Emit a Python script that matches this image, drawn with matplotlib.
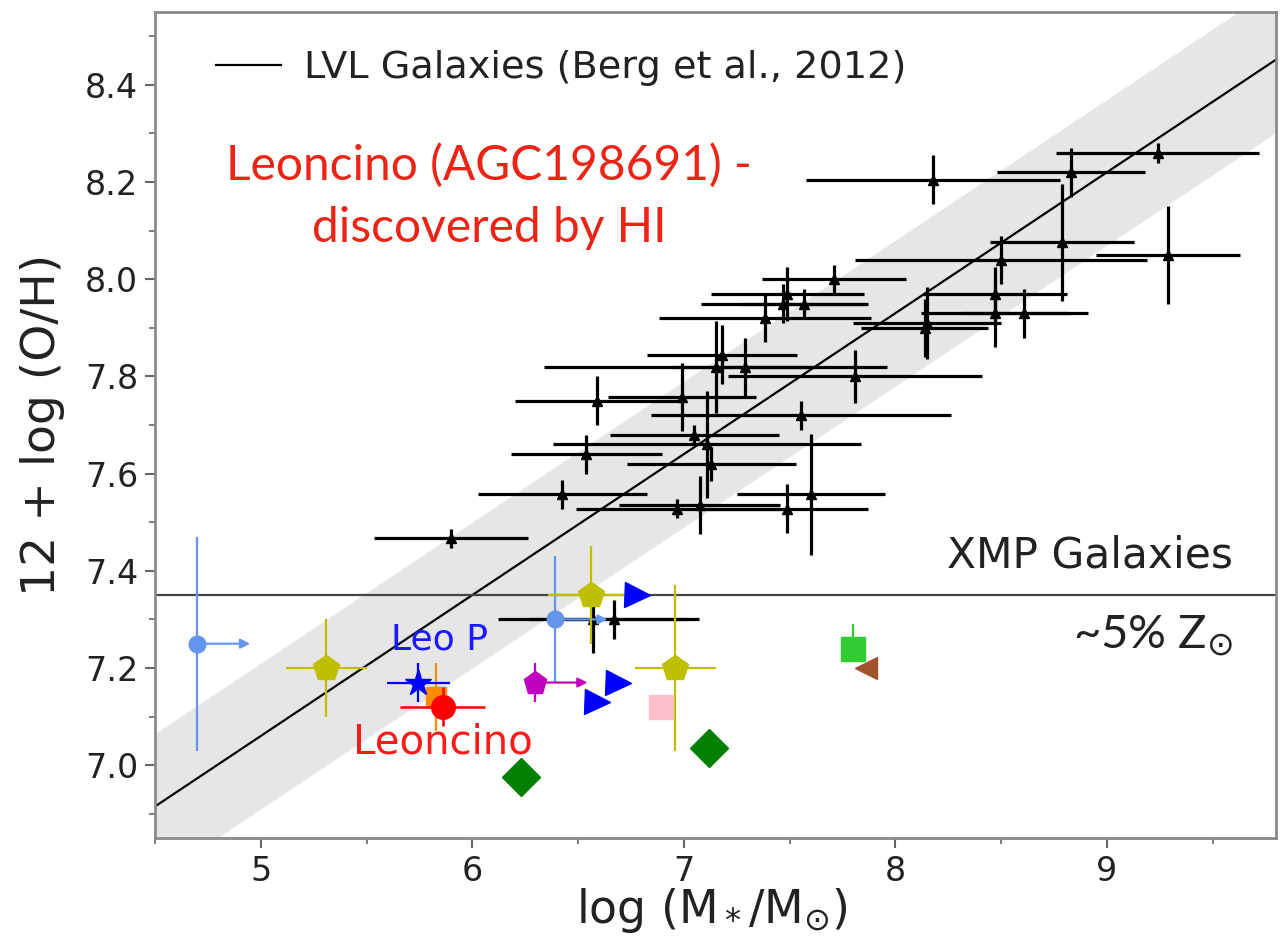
import matplotlib
matplotlib.use('Agg')
import matplotlib.pyplot as plt

# ---------------- data ----------------
# LVL galaxies (Berg et al., 2012): log M*, 12+log(O/H), errors
lvl_logm = [9.24, 8.18, 8.83, 8.79, 9.29, 8.50, 7.71, 7.49, 7.47, 7.57, 7.385,
            8.47, 8.47, 8.61, 8.15, 8.14, 7.18, 7.15, 7.29, 7.81, 6.99, 6.59,
            7.555, 7.05, 7.11, 7.13, 6.54, 6.425, 6.97, 7.075, 7.49, 7.60,
            5.90, 6.57, 6.67]
lvl_oh = [8.26, 8.205, 8.22, 8.076, 8.05, 8.04, 8.00, 7.97, 7.95, 7.95, 7.92,
          7.97, 7.93, 7.93, 7.91, 7.90, 7.845, 7.82, 7.82, 7.80, 7.757, 7.75,
          7.72, 7.68, 7.66, 7.62, 7.64, 7.557, 7.528, 7.536, 7.528, 7.557,
          7.467, 7.30, 7.30]
lvl_xerr = [0.48, 0.60, 0.35, 0.34, 0.34, 0.69, 0.34, 0.36, 0.39, 0.30, 0.50,
            0.34, 0.35, 0.30, 0.35, 0.30, 0.355, 0.81, 0.34, 0.60, 0.35, 0.39,
            0.71, 0.40, 0.73, 0.40, 0.355, 0.40, 0.48, 0.38, 0.38, 0.35,
            0.365, 0.45, 0.40]
lvl_yerr = [0.02, 0.05, 0.05, 0.12, 0.10, 0.05, 0.03, 0.055, 0.04, 0.03, 0.05,
            0.055, 0.07, 0.05, 0.075, 0.06, 0.06, 0.095, 0.06, 0.055, 0.07, 0.05,
            0.03, 0.02, 0.11, 0.035, 0.04, 0.03, 0.02, 0.06, 0.05, 0.125,
            0.02, 0.07, 0.04]

# Berg et al. (2012) relation
fit_intercept = 5.61
fit_slope = 0.29
fit_scatter = 0.15
fit_x = [4.5, 9.8]

xmp_limit = 7.35

# XMP galaxies
lb_x = [4.70, 6.39]; lb_y = [7.25, 7.30]; lb_yerr = [0.22, 0.13]; lb_arrow = [0.25, 0.25]
ol_x = [5.31, 6.56, 6.96]; ol_y = [7.20, 7.35, 7.20]
ol_xerr = [0.19, 0.20, 0.19]; ol_yerr = [0.10, 0.10, 0.17]
leop_x = [5.745]; leop_y = [7.17]; leop_xerr = [0.15]; leop_yerr = [0.04]
or_x = [5.83]; or_y = [7.14]; or_yerr = [0.07]
leon_x = [5.86]; leon_y = [7.12]; leon_xerr = [0.20]; leon_yerr = [0.04]
mag_x = [6.295]; mag_y = [7.17]; mag_yerr = [0.04]; mag_arrow = [0.25]
tri_x = [6.78, 6.69, 6.59]; tri_y = [7.35, 7.17, 7.13]
pink_x = [6.89]; pink_y = [7.12]
dia_x = [6.23, 7.12]; dia_y = [6.975, 7.035]
lime_x = [7.80]; lime_y = [7.24]; lime_yerr = [0.05]
brown_x = [7.86]; brown_y = [7.20]

x_ticks = [5, 6, 7, 8, 9]
y_ticks = [7.0, 7.2, 7.4, 7.6, 7.8, 8.0, 8.2, 8.4]

# ---------------- figure ----------------
fig = plt.figure(figsize=(12.8, 9.43), dpi=100)
ax = fig.add_axes([0.1211, 0.1113, 0.8758, 0.876])

fit_y = [fit_intercept + fit_slope * v for v in fit_x]
ax.fill_between(fit_x, [v - fit_scatter for v in fit_y], [v + fit_scatter for v in fit_y],
                color='#e6e6e6', lw=0, zorder=0)
ax.plot(fit_x, fit_y, color='k', lw=1.6, zorder=1, label='LVL Galaxies (Berg et al., 2012)')
ax.axhline(xmp_limit, color='#444444', lw=1.6, zorder=1)

ax.errorbar(lvl_logm, lvl_oh, xerr=lvl_xerr, yerr=lvl_yerr, fmt='^', color='k',
            ms=7, elinewidth=2.3, capsize=0, zorder=3)

# light blue with lower-limit arrows
ax.errorbar(lb_x, lb_y, yerr=lb_yerr, fmt='o', color='#6495ED', ms=12,
            elinewidth=1.6, capsize=0, zorder=4)
for x, y, a in zip(lb_x, lb_y, lb_arrow):
    ax.annotate('', xy=(x + a, y), xytext=(x, y),
                arrowprops=dict(arrowstyle='-|>', color='#6495ED', lw=1.6,
                                mutation_scale=14, shrinkA=0, shrinkB=0), zorder=4)

ax.errorbar(ol_x, ol_y, xerr=ol_xerr, yerr=ol_yerr, fmt='p', color='#bfbf00', ms=19,
            elinewidth=1.6, capsize=0, zorder=4)
ax.errorbar(or_x, or_y, yerr=or_yerr, fmt='s', color='#ff8c00', ms=14,
            elinewidth=1.6, capsize=0, zorder=4)
ax.errorbar(leop_x, leop_y, xerr=leop_xerr, yerr=leop_yerr, fmt='*', color='#0000ff', ms=20,
            elinewidth=1.6, capsize=0, zorder=5)
ax.errorbar(leon_x, leon_y, xerr=leon_xerr, yerr=leon_yerr, fmt='o', color='#ff0000', ms=17,
            elinewidth=1.8, capsize=0, zorder=5)

ax.errorbar(mag_x, mag_y, yerr=mag_yerr, fmt='p', color='#bf00bf', ms=17,
            elinewidth=1.6, capsize=0, zorder=4)
for x, y, a in zip(mag_x, mag_y, mag_arrow):
    ax.annotate('', xy=(x + a, y), xytext=(x, y),
                arrowprops=dict(arrowstyle='-|>', color='#bf00bf', lw=1.6,
                                mutation_scale=14, shrinkA=0, shrinkB=0), zorder=4)

ax.plot(tri_x, tri_y, '>', color='#0000ff', ms=18, zorder=4, ls='none')
ax.plot(pink_x, pink_y, 's', color='#ffc0cb', ms=17, zorder=4, ls='none')
ax.plot(dia_x, dia_y, 'D', color='#007f00', ms=19, zorder=4, ls='none')
ax.errorbar(lime_x, lime_y, yerr=[[0], lime_yerr], fmt='s', color='#32cd32', ms=17,
            elinewidth=1.6, capsize=0, zorder=4)
ax.plot(brown_x, brown_y, '<', color='#a0522d', ms=16, zorder=4, ls='none')

# ---------------- axes styling ----------------
ax.set_xlim(4.5, 9.8)
ax.set_ylim(6.85, 8.55)
ax.set_xticks(x_ticks)
ax.set_yticks(y_ticks)
ax.set_xticks([4.5 + 0.5 * i for i in range(11)], minor=True)
ax.set_yticks([6.9 + 0.1 * i for i in range(17)], minor=True)
ax.set_yticklabels([f'{v:.1f}' for v in y_ticks])
ax.tick_params(which='major', length=7, width=1.5, color='#666666', labelsize=24,
               labelcolor='#222222', direction='out', pad=5)
ax.tick_params(which='minor', length=4, width=1.2, color='#666666', direction='out')
for s in ax.spines.values():
    s.set_color('#8a8a8a')
    s.set_linewidth(2)

ax.set_xlabel(r'log (M$_*$/M$_{\odot}$)', fontsize=33, color='#222222')
ax.set_ylabel('12 + log (O/H)', fontsize=34, color='#222222')
ax.xaxis.set_label_coords(0.497, -0.058)
ax.yaxis.set_label_coords(-0.08, 0.5)

leg = ax.legend(loc='upper left', frameon=False, fontsize=27.5, handlelength=1.7,
                handletextpad=0.6, bbox_to_anchor=(0.024, 0.995), labelcolor='#222222')

red = '#ec2415'
ax.text(0.298, 0.777, 'Leoncino (AGC198691) -\ndiscovered by HI', transform=ax.transAxes,
        ha='center', va='center', color=red, fontsize=34.5, family='Lato',
        linespacing=1.5)
ax.text(0.962, 0.342, 'XMP Galaxies', transform=ax.transAxes, ha='right', va='center',
        fontsize=30.5, color='#222222')
ax.text(0.962, 0.245, r'~5% Z$_{\odot}$', transform=ax.transAxes, ha='right', va='center',
        fontsize=34, color='#222222', family='Lato')
ax.text(5.845, 7.258, 'Leo P', ha='center', va='center', fontsize=26, color='#1a1aff')
ax.text(5.86, 7.047, 'Leoncino', ha='center', va='center', fontsize=29, color='#ff1a1a')

fig.savefig('out.png', dpi=100)
